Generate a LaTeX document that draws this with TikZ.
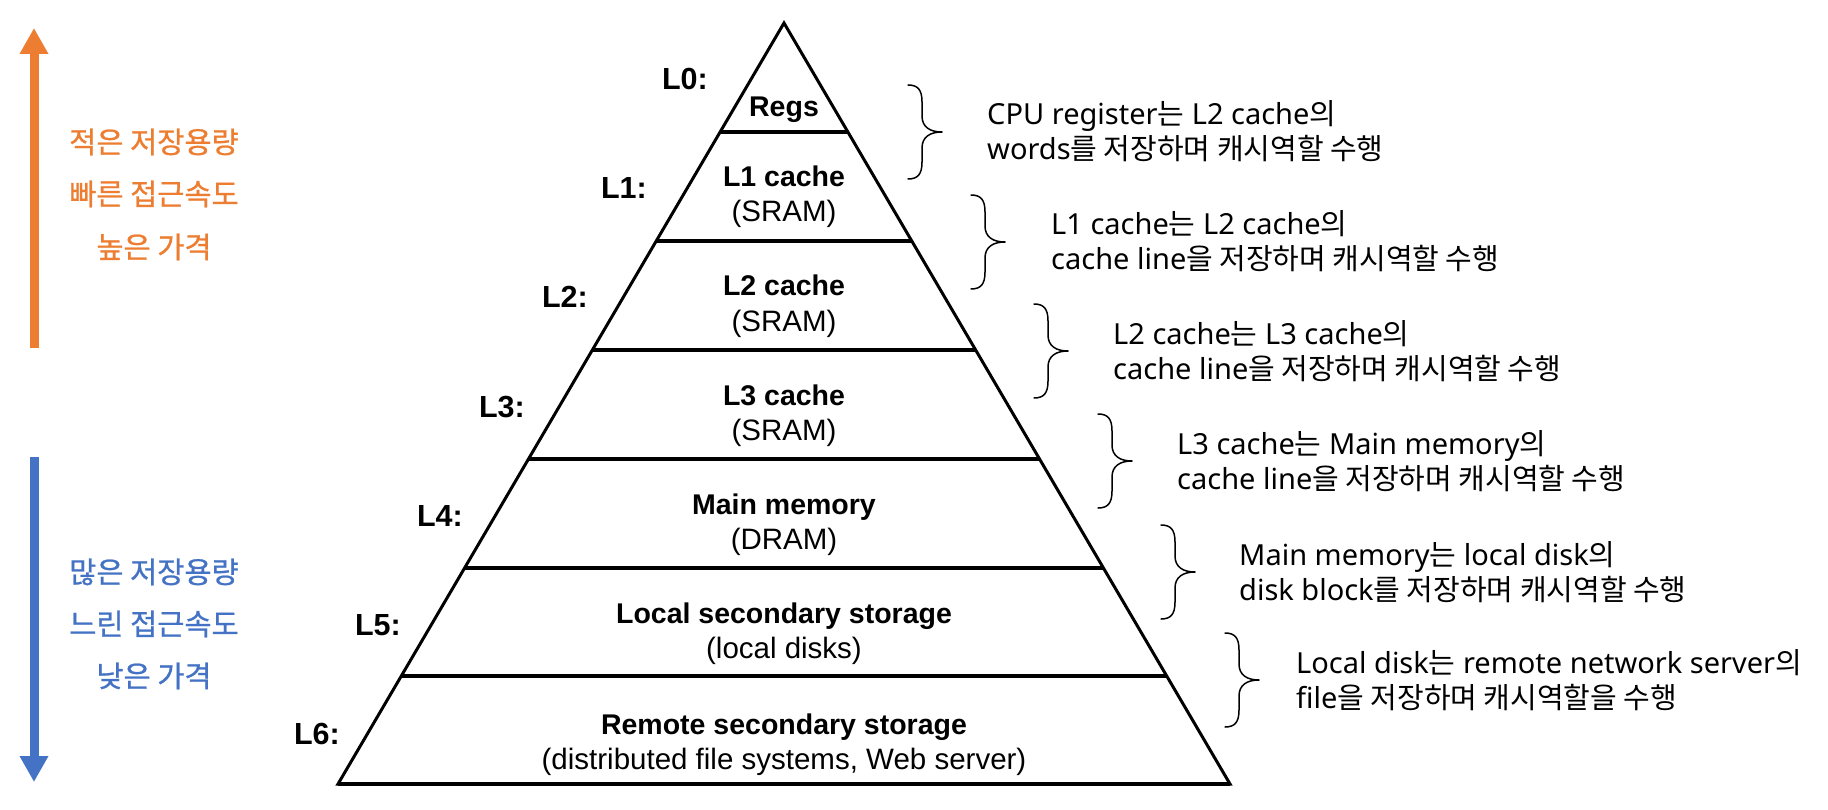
\documentclass[tikz,border=0pt]{standalone}
\usepackage{fontspec}
\setmainfont{Liberation Sans}
\newfontfamily\kr{Noto Sans CJK KR}
\newfontfamily\krb[FakeBold=0.8]{Noto Sans CJK KR}
\newfontfamily\nlat{Noto Sans}
\usetikzlibrary{arrows.meta,calc}
\definecolor{orng}{HTML}{ED7D31}
\definecolor{blu}{HTML}{4472C4}
\newcommand\kh[1]{{\kr\fontsize{29}{35}\selectfont #1}}
\newcommand\mybrace[2]{%
  \pgfmathsetmacro\bx{#1}\pgfmathsetmacro\by{#2}%
  \draw[bracestyle] (\bx-34,\by-47) .. controls (\bx-24,\by-47) and (\bx-20,\by-42) .. (\bx-20,\by-30)
    -- (\bx-20,\by-16) .. controls (\bx-20,\by-5) and (\bx-12,\by) .. (\bx,\by)
    .. controls (\bx-12,\by) and (\bx-20,\by+5) .. (\bx-20,\by+16)
    -- (\bx-20,\by+30) .. controls (\bx-20,\by+42) and (\bx-24,\by+47) .. (\bx-34,\by+47);}
\begin{document}
\begin{tikzpicture}[x=1pt,y=-1pt,
  lvl/.style={font=\bfseries\fontsize{30.5}{36}\selectfont, anchor=base east, inner sep=0pt},
  tier/.style={font=\bfseries\fontsize{28.5}{34}\selectfont, anchor=base, inner sep=0pt},
  subt/.style={font=\fontsize{29.5}{35}\selectfont, anchor=base, inner sep=0pt},
  note/.style={font=\nlat\fontsize{29}{35}\selectfont, anchor=base west, inner sep=0pt},
  sidetxt/.style={font=\krb\fontsize{29.5}{35}\selectfont, anchor=base, inner sep=0pt},
  bracestyle/.style={line width=1.5pt, line cap=round, line join=round},
  pyredge/.style={line width=3pt, line join=miter},
  pyrband/.style={line width=4pt},
  bigarrow/.style={line width=9pt, -{Triangle[width=27pt,length=26pt]}}]
\fill[white] (0,0) rectangle (1828,810);
\useasboundingbox (0,0) rectangle (1828,810);

% left arrows
\coordinate (oa) at (34,348); \coordinate (ob) at (34,28);
\coordinate (ba) at (34,457); \coordinate (bb) at (34,782);
\draw[bigarrow, orng] (oa) -- (ob);
\draw[bigarrow, blu] (ba) -- (bb);

\node[sidetxt, text=orng] (o1) at (154,153) {적은 저장용량};
\node[sidetxt, text=orng] (o2) at (154,205) {빠른 접근속도};
\node[sidetxt, text=orng] (o3) at (154,258) {높은 가격};
\node[sidetxt, text=blu] (b1) at (154,583) {많은 저장용량};
\node[sidetxt, text=blu] (b2) at (154,635) {느린 접근속도};
\node[sidetxt, text=blu] (b3) at (154,687) {낮은 가격};

% pyramid
\coordinate (apex) at (784,23);
\coordinate (bl) at (338,784);
\coordinate (br) at (1230,784);
\foreach \t in {0.1432,0.2865,0.4297,0.5729,0.7162,0.8581}{
  \draw[pyrband] ($(apex)!\t!(bl)$) -- ($(apex)!\t!(br)$);
}
\draw[pyredge] (apex) -- (bl) -- (br) -- cycle;
\draw[pyrband] (bl) -- (br);

\node[tier] (regs) at (784,117) {Regs};
\node[tier] (l1t) at (784,187) {L1 cache};
\node[subt] (l1s) at (784,222) {(SRAM)};
\node[tier] (l2t) at (784,296) {L2 cache};
\node[subt] (l2s) at (784,331) {(SRAM)};
\node[tier] (l3t) at (784,405) {L3 cache};
\node[subt] (l3s) at (784,440) {(SRAM)};
\node[tier] (l4t) at (784,514) {Main memory};
\node[subt] (l4s) at (784,549) {(DRAM)};
\node[tier] (l5t) at (784,623) {Local secondary storage};
\node[subt] (l5s) at (784,658) {(local disks)};
\node[tier] (l6t) at (784,734) {Remote secondary storage};
\node[subt] (l6s) at (784,769) {(distributed file systems, Web server)};

% level labels
\node[lvl] (L0) at (708,90) {L0:};
\node[lvl] (L1) at (647,199) {L1:};
\node[lvl] (L2) at (588,308) {L2:};
\node[lvl] (L3) at (525,417) {L3:};
\node[lvl] (L4) at (463,526) {L4:};
\node[lvl] (L5) at (401,635) {L5:};
\node[lvl] (L6) at (340,744) {L6:};

% braces
\mybrace{942}{132}
\mybrace{1005}{242}
\mybrace{1068}{351}
\mybrace{1132}{461}
\mybrace{1195}{572}
\mybrace{1259}{680}

% notes
\node[note] (n1a) at (987,125) {CPU register\kh{는} L2 cache\kh{의}};
\node[note] (n1b) at (987,160) {words\kh{를 저장하며 캐시역할 수행}};
\node[note] (n2a) at (1051,235) {L1 cache\kh{는} L2 cache\kh{의}};
\node[note] (n2b) at (1051,270) {cache line\kh{을 저장하며 캐시역할 수행}};
\node[note] (n3a) at (1113,344) {L2 cache\kh{는} L3 cache\kh{의}};
\node[note] (n3b) at (1113,379) {cache line\kh{을 저장하며 캐시역할 수행}};
\node[note] (n4a) at (1177,454) {L3 cache\kh{는} Main memory\kh{의}};
\node[note] (n4b) at (1177,489) {cache line\kh{을 저장하며 캐시역할 수행}};
\node[note] (n5a) at (1239,565) {Main memory\kh{는} local disk\kh{의}};
\node[note] (n5b) at (1239,600) {disk block\kh{를 저장하며 캐시역할 수행}};
\node[note] (n6a) at (1296,673) {Local disk\kh{는} remote network server\kh{의}};
\node[note] (n6b) at (1296,708) {file\kh{을 저장하며 캐시역할을 수행}};
\end{tikzpicture}
\end{document}
